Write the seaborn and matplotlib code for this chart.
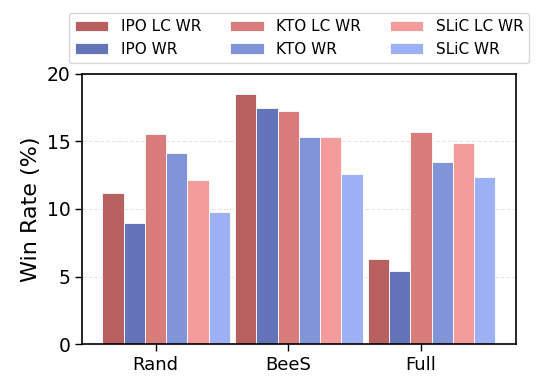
import numpy as np
import pandas as pd
import matplotlib
matplotlib.use('Agg')
import matplotlib.pyplot as plt
import seaborn as sns

# Data
methods = ['Rand', 'BeeS', 'Full']
series = ['IPO LC WR', 'IPO WR', 'KTO LC WR', 'KTO WR', 'SLiC LC WR', 'SLiC WR']
ipo_lc = [11.15, 18.48, 6.27]
ipo_wr = [8.93, 17.49, 5.43]
kto_lc = [15.52, 17.22, 15.69]
kto_wr = [14.14, 15.30, 13.45]
slic_lc = [12.11, 15.35, 14.85]
slic_wr = [9.75, 12.58, 12.34]
colors = ['#b86060', '#6374b8', '#d87c7c', '#8194d8', '#f49b9b', '#9db0f4']

values = [ipo_lc, ipo_wr, kto_lc, kto_wr, slic_lc, slic_wr]
df = pd.DataFrame({
    'Method': np.repeat(methods, len(series)).tolist(),
    'Series': series * len(methods),
    'Win Rate': [values[j][i] for i in range(len(methods)) for j in range(len(series))],
})

sns.set_style('white')
plt.rcParams['font.family'] = ['DejaVu Sans']
plt.rcParams.update({'text.color': 'black', 'axes.labelcolor': 'black',
                     'xtick.color': 'black', 'ytick.color': 'black'})

fig = plt.figure(figsize=(5.44, 3.91), dpi=100)
ax = fig.add_axes([0.151, 0.120, 0.7975, 0.691])

bar_w = 0.16
sns.barplot(data=df, x='Method', y='Win Rate', hue='Series', order=methods,
            hue_order=series, palette=colors, width=bar_w * len(series),
            saturation=1, edgecolor='white', linewidth=0.6, ax=ax, legend=True)

# ticks sit on the third bar of each group
ax.set_xticks(np.arange(len(methods)) - bar_w / 2)
ax.set_xticklabels(methods, fontsize=13)
ax.set_xlim(-0.633, 2.635)
ax.set_ylim(0, 20)
ax.set_yticks([0, 5, 10, 15, 20])
ax.tick_params(axis='y', labelsize=13.5)
ax.tick_params(axis='both', direction='out', length=5, width=1, color='black',
               labelcolor='black', left=True, bottom=True)
ax.set_xlabel('')
ax.set_ylabel('Win Rate (%)', fontsize=16, color='black')
ax.grid(axis='y', linestyle='--', color='#dddddd', alpha=0.7, linewidth=0.8)
ax.set_axisbelow(True)
for s in ax.spines.values():
    s.set_color('black')
    s.set_linewidth(1.2)

handles, labels = ax.get_legend_handles_labels()
leg = ax.legend(handles, labels, loc='lower center', bbox_to_anchor=(0.5, 1.04), ncol=3,
                fontsize=11, frameon=True, edgecolor='#cccccc', columnspacing=1.9,
                handlelength=2.2, borderaxespad=0)
for t in leg.get_texts():
    t.set_color('black')

fig.savefig('out.png', dpi=100)
